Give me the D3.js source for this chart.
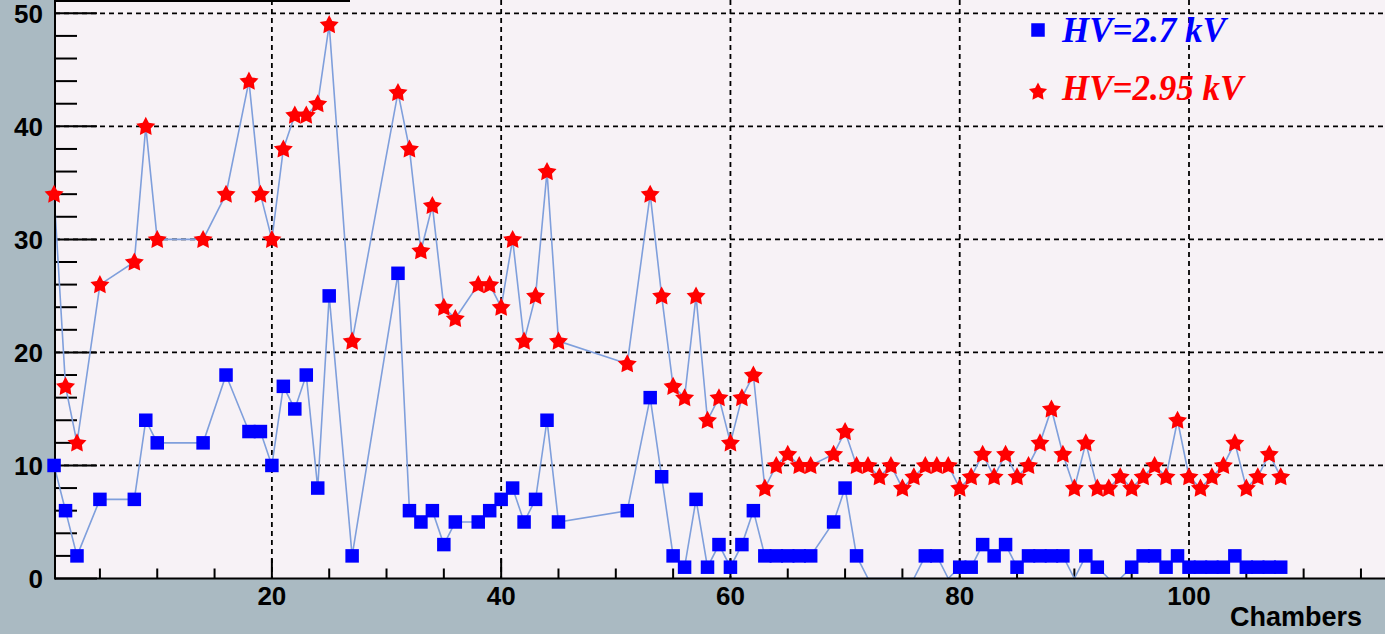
<!DOCTYPE html>
<html>
<head>
<meta charset="utf-8">
<script src="https://cdn.jsdelivr.net/npm/d3@7/dist/d3.min.js"></script>
<style>
html,body{margin:0;padding:0;background:#aabac2;}
svg{display:block;}
</style>
</head>
<body>
<svg id="chart" width="1385" height="634"></svg>
<script>
const channels = [1,2,3,5,8,9,10,14,16,18,19,20,21,22,23,24,25,27,31,32,33,34,35,36,38,39,40,41,42,43,44,45,51,53,54,55,56,57,58,59,60,61,62,63,64,65,66,67,69,70,71,72,73,74,75,76,77,78,79,80,81,82,83,84,85,86,87,88,89,90,91,92,93,94,95,96,97,98,99,100,101,102,103,104,105,106,107,108];
const hv27 = [10,6,2,7,7,14,12,12,18,13,13,10,17,15,18,8,25,2,27,6,5,6,3,5,5,6,7,8,5,7,14,5,6,16,9,2,1,7,1,3,1,3,6,2,2,2,2,2,5,8,2,0,0,0,0,0,2,2,0,1,1,3,2,3,1,2,2,2,2,0,2,1,0,0,1,2,2,1,2,1,1,1,1,2,1,1,1,1];
const hv295 = [34,17,12,26,28,40,30,30,34,44,34,30,38,41,41,42,49,21,43,38,29,33,24,23,26,26,24,30,21,25,36,21,19,34,25,17,16,25,14,16,12,16,18,8,10,11,10,10,11,13,10,10,9,10,8,9,10,10,10,8,9,11,9,11,9,10,12,15,11,8,12,8,8,9,8,9,10,9,14,9,8,9,10,12,8,9,11,9];
const xTicks = [20,40,60,80,100];
const yTicks = [0,10,20,30,40,50];
const legendLabels = ["HV=2.7 kV","HV=2.95 kV"];
const xTitle = "Chambers";

const W = 1385, H = 634;
const svg = d3.select("#chart");
const pL = 55, pB = 578.5, pT = 0, pR = W;

const x = d3.scaleLinear().domain([0,100]).range([42.6,1189]);
const y = d3.scaleLinear().domain([0,50]).range([578.5,13.3]);

// background
svg.append("rect").attr("width",W).attr("height",H).attr("fill","#aabac2");
svg.append("rect").attr("x",pL).attr("y",pT).attr("width",pR-pL).attr("height",pB-pT).attr("fill","#f7f2f6");

// grid
const grid = svg.append("g").attr("stroke","#000").attr("stroke-width",1.8).attr("stroke-dasharray","5,4");
grid.selectAll("line.v").data(xTicks).enter().append("line")
  .attr("x1",d=>x(d)).attr("x2",d=>x(d)).attr("y1",pT).attr("y2",pB);
grid.selectAll("line.h").data(yTicks.filter(d=>d>0)).enter().append("line")
  .attr("x1",pL).attr("x2",pR).attr("y1",d=>y(d)).attr("y2",d=>y(d));

// y ticks
const yMinor = d3.range(0,51,2);
const yAx = svg.append("g").attr("stroke","#000").attr("stroke-width",2);
yAx.selectAll("line").data(yMinor).enter().append("line")
  .attr("x1",pL).attr("x2",d=> d%10===0 ? pL+42 : pL+22)
  .attr("y1",d=>y(d)).attr("y2",d=>y(d));
// x ticks
const xMinor = d3.range(5,125,5);
const xAx = svg.append("g").attr("stroke","#000").attr("stroke-width",2);
xAx.selectAll("line").data(xMinor).enter().append("line")
  .attr("x1",d=>x(d)).attr("x2",d=>x(d))
  .attr("y1",pB).attr("y2",d=> d%20===0 ? pB-20 : pB-10);

// data lines
const pts27 = channels.map((c,i)=>[c,hv27[i]]);
const pts295 = channels.map((c,i)=>[c,hv295[i]]);
const line = d3.line().x(d=>x(d[0])).y(d=>y(d[1]));
svg.append("path").attr("d",line(pts27)).attr("fill","none").attr("stroke","#7f9fdc").attr("stroke-width",1.6);
svg.append("path").attr("d",line(pts295)).attr("fill","none").attr("stroke","#7f9fdc").attr("stroke-width",1.6);

// axes lines
svg.append("line").attr("x1",pL).attr("x2",pL).attr("y1",0).attr("y2",pB+1).attr("stroke","#000").attr("stroke-width",2);
svg.append("line").attr("x1",pL).attr("x2",pR).attr("y1",pB).attr("y2",pB).attr("stroke","#000").attr("stroke-width",2);
svg.append("line").attr("x1",pL).attr("x2",350).attr("y1",1).attr("y2",1).attr("stroke","#000").attr("stroke-width",2);

// star path
function starPath(R){
  const r = R*0.52; let p=[];
  for(let k=0;k<10;k++){
    const a = -Math.PI/2 + k*Math.PI/5;
    const rr = k%2===0?R:r;
    p.push([rr*Math.cos(a), rr*Math.sin(a)]);
  }
  return "M"+p.map(q=>q[0].toFixed(2)+","+q[1].toFixed(2)).join("L")+"Z";
}
const sq = 13.5;
svg.append("g").selectAll("rect").data(pts27.filter(d=>d[1]>0)).enter().append("rect")
  .attr("x",d=>x(d[0])-sq/2).attr("y",d=>y(d[1])-sq/2).attr("width",sq).attr("height",sq).attr("fill","#0000ff");
svg.append("g").selectAll("path").data(pts295).enter().append("path")
  .attr("d",starPath(10)).attr("transform",d=>`translate(${x(d[0])},${y(d[1])+0.5})`).attr("fill","#ff0000");

// tick labels
svg.append("g").selectAll("text").data(yTicks).enter().append("text")
  .attr("x",43).attr("y",d=>y(d)).attr("dy","0.36em").attr("text-anchor","end")
  .attr("font-family","Liberation Sans, Arial, sans-serif").attr("font-weight","bold").attr("font-size",26)
  .text(d=>d);
svg.append("g").selectAll("text").data(xTicks).enter().append("text")
  .attr("x",d=>x(d)).attr("y",605).attr("text-anchor","middle")
  .attr("font-family","Liberation Sans, Arial, sans-serif").attr("font-weight","bold").attr("font-size",26)
  .text(d=>d);
svg.append("text").attr("x",1362).attr("y",626).attr("text-anchor","end")
  .attr("font-family","Liberation Sans, Arial, sans-serif").attr("font-weight","bold").attr("font-size",27)
  .text(xTitle);

// legend
svg.append("rect").attr("x",1038-sq/2).attr("y",30-sq/2).attr("width",sq).attr("height",sq).attr("fill","#0000ff");
svg.append("path").attr("d",starPath(9.5)).attr("transform","translate(1038,92)").attr("fill","#ff0000");
const lg = [{t:legendLabels[0],c:"#0000ff",y:42},{t:legendLabels[1],c:"#ff0000",y:100}];
svg.append("g").selectAll("text").data(lg).enter().append("text")
  .attr("x",1062).attr("y",d=>d.y)
  .attr("font-family","Liberation Serif, Times New Roman, serif").attr("font-style","italic").attr("font-weight","bold").attr("font-size",35)
  .attr("fill",d=>d.c).text(d=>d.t);
</script>
</body>
</html>
